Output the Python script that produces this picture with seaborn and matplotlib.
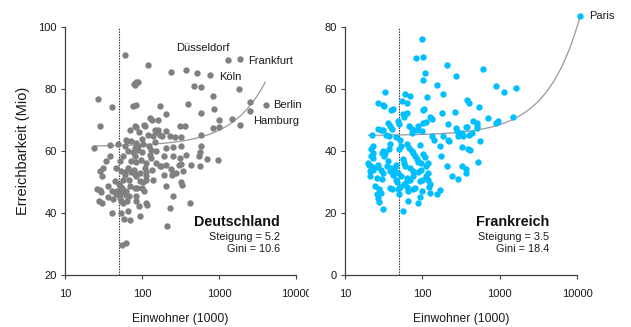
import numpy as np
import pandas as pd
import matplotlib
matplotlib.use("Agg")
import matplotlib.pyplot as plt
from matplotlib.transforms import Bbox
import seaborn as sns

# ---- Deutschland: Einwohner (1000) und Erreichbarkeit (Mio) ----
de_pop = [59.7, 118, 239, 374, 514, 79.6, 83.6, 87.9, 81.2, 480, 585, 1815,
          27.0, 828, 41.3, 76.5, 83.6, 169, 393, 870, 2518, 202, 585, 128,
          135, 161, 991, 1472, 28.9, 80.4, 84.5, 107, 110, 163, 310, 360, 836,
          1010, 1871, 70.6, 91.5, 146, 153, 202, 169, 183, 139, 61.5, 101, 120,
          228, 270, 323, 585, 64.0, 72.8, 84.5, 88.8, 103, 122, 147, 38.2, 49.4,
          59.7, 80.4, 23.7, 323, 585, 65.9, 76.5, 88.8, 101, 132, 153, 206, 252,
          38.2, 57.4, 82.0, 126, 132, 192, 252, 307, 374, 574, 557, 700, 962,
          33.9, 52.5, 72.8, 84.5, 98.0, 114, 153, 178, 202, 298, 323, 431, 31.3,
          45.6, 65.9, 78.8, 108, 135, 169, 239, 574, 28.4, 54.1, 59.7, 72.8,
          80.4, 93.3, 114, 252, 278, 339, 30.1, 59.7, 84.5, 114, 139, 192, 244,
          44.8, 49.9, 56.8, 67.9, 93.3, 103, 114, 323, 332, 36.3, 51.4, 55.7,
          70.6, 86.1, 101, 202, 26.2, 28.4, 41.3, 47.5, 62.7, 81.2, 106, 29.2,
          46.6, 54.1, 61.5, 67.9, 84.5, 252, 36.3, 42.2, 51.4, 27.8, 30.1, 53.0,
          56.8, 64.0, 82.8, 114, 116, 422, 232, 91.5, 41.3, 53.0, 65.9, 95.1,
          58.0, 70.6, 210, 54.6, 61.5]
de_reach = [90.9, 87.8, 85.4, 86.2, 85.2, 81.7, 82.2, 82.2, 81.3, 80.9, 80.5, 80.0,
            76.9, 77.8, 74.1, 74.4, 74.8, 74.6, 75.2, 73.5, 75.7, 71.9, 72.3, 70.6,
            70.1, 69.9, 70.1, 70.3, 68.2, 68.0, 67.6, 68.5, 68.2, 66.7, 68.2, 68.0, 67.4,
            67.7, 68.5, 66.7, 66.0, 66.7, 66.1, 66.6, 65.3, 64.7, 64.9, 63.7, 63.9, 65.3,
            64.7, 64.5, 64.5, 65.3, 63.1, 63.1, 62.6, 61.5, 62.4, 61.5, 62.9, 61.8, 62.2,
            61.5, 61.0, 60.9, 61.5, 61.5, 60.1, 59.6, 60.4, 59.6, 60.4, 59.9, 61.1, 61.3,
            58.5, 58.3, 58.3, 58.8, 57.7, 58.3, 58.5, 57.7, 58.8, 59.6, 58.3, 57.4, 57.2,
            56.7, 56.7, 56.7, 56.3, 57.2, 56.1, 56.1, 55.1, 55.6, 55.5, 55.9, 55.6, 54.5,
            54.5, 54.5, 53.8, 54.5, 53.8, 55.1, 54.2, 55.3, 53.4, 53.4, 53.1, 53.1,
            52.7, 52.9, 53.2, 52.9, 52.9, 53.4, 51.8, 52.4, 51.8, 51.8, 50.8, 52.4, 52.4,
            50.2, 49.5, 50.8, 50.8, 50.2, 49.9, 50.8, 49.9, 49.1, 48.6, 48.6, 48.1,
            48.6, 48.1, 48.1, 48.6, 47.7, 47.3, 47.2, 47.0, 47.0, 48.0, 47.0, 46.7,
            46.2, 46.5, 45.9, 45.6, 45.4, 45.4, 45.2, 44.5, 44.8, 43.8, 43.2, 43.8,
            43.2, 43.8, 43.8, 43.2, 42.6, 43.2, 41.6, 42.2, 40.0, 40.0, 40.8, 39.1,
            38.1, 37.6, 35.7, 29.7, 30.3]

de_cities = ["Düsseldorf", "Frankfurt", "Köln", "Berlin", "Hamburg"]
de_city_pop = [1306, 1888, 773, 4055, 2518]
de_city_reach = [89.4, 89.8, 84.6, 74.7, 73.0]
de_city_offset = [(-18, 8.6, "center"), (5.8, -1.4, "left"), (6.5, -1.6, "left"),
                  (5.0, 0.0, "left"), (2.2, -7.2, "left")]

# ---- Frankreich ----
fr_pop = [98, 84, 103, 108, 210, 600, 270, 101, 153, 910, 1130, 1620, 32.6, 187,
          59.6, 69, 114, 27, 30.7, 32, 54.5, 62.7, 383, 405, 540, 106, 103, 39.4,
          42, 263, 178, 126, 132, 56.6, 58.6, 62.7, 700, 940, 900, 1500, 455, 505,
          49, 50.5, 35.6, 215, 103, 110, 89, 68, 38.2, 40.5, 27, 29, 31.3, 22.5,
          33.9, 37.4, 45.6, 51.4, 72.8, 72.8, 86, 98, 132, 142, 187, 217, 223, 292,
          322, 338, 365, 383, 505, 515, 405, 435, 278, 272, 556, 388, 415, 322, 169,
          62.7, 66.5, 93, 53, 50.5, 38.2, 37, 30.7, 29.8, 22.8, 21.7, 23.2, 21.5,
          22.8, 32.9, 32, 72.8, 76.5, 81, 103, 108, 174, 84.5, 56.6, 36.3, 19.6,
          20.6, 22, 25.2, 27, 34.6, 39.4, 45.6, 44.8, 57.9, 60.3, 87, 96, 117, 110,
          210, 330, 365, 369, 520, 23.2, 21, 29, 31.3, 38.2, 41.4, 49, 52.4, 69,
          76.5, 89, 95, 117, 113, 62.7, 21, 25.7, 29.8, 45.6, 47.5, 62.7, 69, 76.5,
          93, 100, 119, 126, 123, 244, 292, 24.4, 27.8, 29, 38.2, 40, 51.4, 49,
          58.6, 62.7, 66.1, 76.5, 81, 100, 126, 153, 171, 25.7, 27, 27.8, 30.7,
          66.1, 50.5, 89, 93, 56.6]
fr_reach = [76.2, 69.9, 70.3, 65.1, 67.9, 66.5, 64.2, 62.9, 61.3, 61.0, 59.0, 60.3,
            59.0, 58.5, 58.5, 57.7, 57.5, 55.6, 55.0, 54.5, 56.1, 55.6, 56.6, 55.6,
            54.3, 53.7, 53.2, 53.1, 53.6, 52.7, 52.1, 51.0, 50.4, 51.8, 50.9, 52.3,
            50.6, 49.6, 48.9, 51.0, 49.6, 49.1, 49.6, 48.6, 49.1, 48.6, 48.9, 49.3,
            48.2, 48.0, 48.0, 47.2, 47.0, 46.7, 46.7, 45.3, 45.3, 44.8, 44.6, 43.7,
            47.2, 45.9, 46.7, 46.4, 44.8, 43.7, 44.8, 43.7, 43.2, 45.0, 45.9, 44.8,
            47.6, 47.9, 48.0, 47.3, 45.3, 45.9, 46.4, 47.5, 43.2, 40.7, 40.2, 41.4,
            41.6, 42.3, 41.0, 41.9, 41.6, 40.5, 42.1, 40.7, 40.0, 39.2, 41.6, 40.5,
            39.4, 38.3, 37.8, 39.4, 38.3, 40.0, 39.2, 38.3, 38.9, 38.1, 38.3, 37.3,
            37.3, 36.7, 36.2, 35.6, 35.1, 34.9, 35.4, 35.1, 34.6, 35.4, 34.0, 36.2,
            35.1, 36.4, 36.0, 36.2, 35.1, 35.1, 35.1, 34.3, 33.0, 36.5, 34.0, 33.5,
            34.0, 33.0, 33.5, 32.4, 33.0, 31.9, 34.6, 33.5, 33.2, 34.0, 33.0, 31.9,
            31.3, 31.9, 31.3, 31.0, 30.8, 29.9, 30.3, 30.8, 31.9, 30.3, 30.8, 30.8,
            29.2, 28.4, 31.9, 31.1, 28.7, 27.6, 26.5, 28.1, 27.6, 28.4, 27.6, 29.2,
            28.4, 27.0, 27.6, 28.0, 27.0, 26.5, 26.0, 27.3, 26.0, 24.9, 23.5, 21.3,
            23.8, 26.0, 23.3, 25.2, 20.6]

fr_cities = ["Paris"]
fr_city_pop = [10940]
fr_city_reach = [83.7]
fr_city_offset = [(6.5, 0.0, "left")]

# Linear fit (Erreichbarkeit vs. Einwohner), slope per million inhabitants
de_intercept, de_slope, de_gini = 61.5, 5.2, 10.6
fr_intercept, fr_slope, fr_gini = 45.0, 3.5, 18.4
de_fit_span = (24, 4000)
fr_fit_span = (20, 11000)
min_pop = 50

sns.set_theme(style="ticks")
plt.rcParams["font.family"] = ["Liberation Sans", "DejaVu Sans"]
plt.rcParams["axes.edgecolor"] = "#404040"
plt.rcParams["xtick.color"] = "#404040"
plt.rcParams["ytick.color"] = "#404040"
plt.rcParams["xtick.labelcolor"] = "#1a1a1a"
plt.rcParams["ytick.labelcolor"] = "#1a1a1a"

fig = plt.figure(figsize=(6.31, 3.27), dpi=100)
ax_de = fig.add_axes([65 / 631, 1 - 275 / 327, 231 / 631, 248 / 327])
ax_fr = fig.add_axes([345 / 631, 1 - 275 / 327, 232 / 631, 248 / 327])

panels = [
    (ax_de, "Deutschland", de_pop + de_city_pop, de_reach + de_city_reach,
     de_cities, de_city_pop, de_city_reach, de_city_offset,
     de_intercept, de_slope, de_gini, de_fit_span, "#808080", (20, 100), 0.93),
    (ax_fr, "Frankreich", fr_pop + fr_city_pop, fr_reach + fr_city_reach,
     fr_cities, fr_city_pop, fr_city_reach, fr_city_offset,
     fr_intercept, fr_slope, fr_gini, fr_fit_span, "#00BFFF", (0, 80), 0.88),
]

for (ax, country, pop, reach, names, cpop, creach, coff,
     icpt, slope, gini, span, color, ylim, tx) in panels:
    df = pd.DataFrame({"pop": pop, "reach": reach})
    sns.scatterplot(data=df, x="pop", y="reach", ax=ax, color=color, s=21,
                    linewidth=0, clip_on=False, zorder=3)

    fit_x = np.geomspace(span[0], span[1], 200)
    fit = pd.DataFrame({"pop": fit_x, "reach": icpt + slope / 1000 * fit_x})
    sns.lineplot(data=fit, x="pop", y="reach", ax=ax, color="#999999",
                 linewidth=0.9, clip_on=False, zorder=2)

    ax.axvline(min_pop, color="#222222", linestyle=(0, (1.2, 1.2)),
               linewidth=0.8, zorder=1)

    for name, px, py, (dx, dy, ha) in zip(names, cpop, creach, coff):
        ax.annotate(name, (px, py), xytext=(dx, dy), textcoords="offset points",
                    ha=ha, va="center", fontsize=8, color="#1a1a1a",
                    annotation_clip=False)

    ax.set_xscale("log")
    ax.set_xlim(10, 10000)
    ax.set_ylim(*ylim)
    ax.set_xticks([10, 100, 1000, 10000])
    ax.set_xticklabels(["10", "100", "1000", "10000"])
    ax.xaxis.set_minor_locator(matplotlib.ticker.NullLocator())
    ax.set_yticks(np.arange(ylim[0], ylim[1] + 1, 20))
    ax.tick_params(axis="both", labelsize=8, length=3, width=0.8)
    ax.tick_params(axis="x", pad=7)
    ax.tick_params(axis="y", pad=3)
    for sp in ("top", "right"):
        ax.spines[sp].set_visible(False)
    for sp in ("left", "bottom"):
        ax.spines[sp].set_linewidth(0.9)

    ax.set_xlabel("Einwohner (1000)", fontsize=8.7, color="#1a1a1a", labelpad=10)
    ax.set_ylabel("")

    ax.text(tx, 0.215, country, transform=ax.transAxes, ha="right",
            va="center", fontsize=10.3, fontweight="bold", color="#111111")
    ax.text(tx, 0.155, f"Steigung = {slope}", transform=ax.transAxes,
            ha="right", va="center", fontsize=7.8, color="#1a1a1a")
    ax.text(tx, 0.105, f"Gini = {gini}", transform=ax.transAxes,
            ha="right", va="center", fontsize=7.8, color="#1a1a1a")

ax_de.set_ylabel("Erreichbarkeit (Mio)", fontsize=10.5, color="#1a1a1a",
                 labelpad=6)

# the rightmost tick label of the left panel runs into the gap between panels
fig.canvas.draw()
cut = Bbox.from_extents(0, 0, 309, 327)
lbl = ax_de.get_xticklabels()[-1]
lbl.set_clip_on(True)
lbl.set_clip_box(cut)

fig.savefig("out.png", dpi=100)
